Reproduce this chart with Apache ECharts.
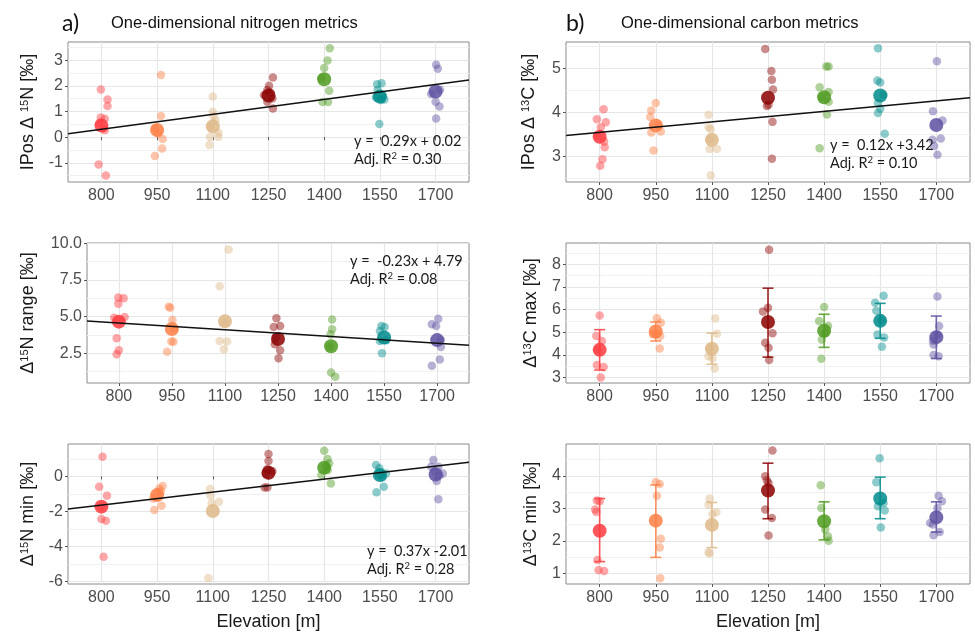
<!DOCTYPE html>
<html>
<head>
<meta charset="utf-8">
<script src="https://cdn.jsdelivr.net/npm/echarts@6/dist/echarts.min.js"></script>
<style>
html,body{margin:0;padding:0;background:#fff;}
#chart{width:975px;height:632px;}
</style>
</head>
<body>
<div id="chart"></div>
<script>
// ---------- categories & colours ----------
const elevations = ['800', '950', '1100', '1250', '1400', '1550', '1700'];
const groupColors = ['#FF3B3F', '#FF7F45', '#DEB887', '#8B0000', '#4E9A1E', '#008B8B', '#5D50A0'];

// ---------- a) IPos Δ15N ----------
const iposN_values = [
  [1.86, 1.47, 1.21, 0.77, 0.72, 0.55, 0.35, 0.27, -1.07, -1.50],
  [2.42, 0.82, 0.35, 0.14, -0.07, -0.44, -0.74],
  [1.58, 0.99, 0.82, 0.66, 0.40, 0.17, 0.01, 0.01, -0.31],
  [2.33, 2.00, 1.84, 1.73, 1.64, 1.51, 1.38, 1.12],
  [3.47, 2.99, 2.70, 2.30, 1.81, 1.37, 1.37],
  [2.10, 2.06, 1.84, 1.62, 1.55, 1.47, 1.45, 0.51],
  [2.82, 2.67, 1.85, 1.68, 1.38, 1.19, 0.73]
];
const iposN_jitter = [
  [-0.01, 0.11, 0.11, -0.01, 0.06, -0.04, 0.04, 0.06, -0.05, 0.08],
  [0.07, 0.07, -0.04, 0.02, 0.10, 0.09, -0.04],
  [0.00, 0.00, 0.01, 0.05, -0.04, 0.10, -0.05, 0.10, -0.06],
  [0.08, 0.01, -0.02, 0.04, -0.08, 0.07, -0.02, 0.08],
  [0.10, 0.06, 0.00, -0.05, 0.09, -0.03, 0.07],
  [0.03, -0.05, -0.04, 0.05, -0.07, 0.08, 0.02, -0.01],
  [0.01, 0.04, 0.08, -0.08, 0.00, 0.07, 0.01]
];
const iposN_mean = [0.45, 0.28, 0.42, 1.62, 2.26, 1.58, 1.78];
const iposN_fit = [0.29, 0.02];
const iposN_ticks = [-1, 0, 1, 2, 3];
const iposN_minor = [-1.5, -0.5, 0.5, 1.5, 2.5, 3.5];

// ---------- b) IPos Δ13C ----------
const iposC_values = [
  [4.07, 3.84, 3.77, 3.66, 3.45, 3.33, 3.20, 2.93, 2.78],
  [4.21, 4.04, 3.89, 3.71, 3.56, 3.54, 3.13],
  [3.94, 3.66, 3.61, 3.39, 3.16, 3.16, 2.56],
  [5.44, 4.94, 4.74, 4.52, 4.17, 4.14, 3.78, 2.94],
  [5.04, 5.04, 4.57, 4.46, 4.34, 4.24, 3.95, 3.18],
  [5.46, 4.72, 4.68, 4.40, 4.21, 4.08, 3.98, 3.51],
  [5.16, 4.02, 3.81, 3.40, 3.37, 3.23, 3.03]
];
const iposC_jitter = [
  [0.07, -0.05, 0.11, 0.02, -0.04, 0.08, 0.09, 0.05, 0.01],
  [0.00, -0.08, -0.10, 0.05, 0.09, -0.08, -0.04],
  [-0.06, -0.06, -0.02, -0.04, -0.04, 0.09, -0.02],
  [-0.05, 0.06, 0.07, 0.09, 0.01, -0.02, 0.08, 0.07],
  [0.04, 0.08, -0.08, 0.08, -0.04, 0.08, 0.05, -0.08],
  [-0.04, -0.05, 0.00, 0.06, -0.04, 0.00, -0.04, 0.08],
  [0.01, -0.06, 0.11, 0.08, -0.07, -0.04, 0.02]
];
const iposC_mean = [3.44, 3.70, 3.37, 4.33, 4.34, 4.38, 3.71];
const iposC_fit = [0.12, 3.42];
const iposC_ticks = [3, 4, 5];
const iposC_minor = [2.5, 3.5, 4.5, 5.5];

// ---------- a) Δ15N range ----------
const rangeN_values = [
  [6.30, 6.25, 5.89, 4.98, 4.93, 4.70, 3.52, 2.70, 2.43],
  [5.68, 5.61, 4.77, 4.20, 3.30, 3.28, 2.61],
  [9.59, 7.07, 4.60, 3.34, 3.30, 2.77],
  [4.89, 4.36, 4.30, 3.60, 3.11, 2.70, 2.16],
  [4.80, 4.14, 3.80, 2.95, 1.18, 0.89],
  [4.36, 4.30, 4.02, 3.39, 3.34, 2.50],
  [4.86, 4.48, 4.36, 3.41, 2.93, 2.07, 1.64]
];
const rangeN_jitter = [
  [-0.01, 0.09, -0.01, 0.11, -0.09, 0.00, -0.04, 0.00, -0.04],
  [-0.06, -0.03, 0.01, 0.03, -0.01, 0.03, -0.09],
  [0.07, -0.10, 0.00, -0.10, 0.04, -0.02],
  [-0.03, 0.04, -0.08, -0.04, -0.06, 0.04, 0.01],
  [0.02, 0.02, -0.01, -0.02, 0.00, 0.08],
  [-0.05, 0.01, -0.08, 0.04, -0.08, -0.04],
  [0.02, -0.10, -0.02, 0.07, 0.07, 0.05, -0.10]
];
const rangeN_mean = [4.66, 4.16, 4.68, 3.47, 2.98, 3.58, 3.40];
const rangeN_fit = [-0.23, 4.79];
const rangeN_ticks = [2.5, 5.0, 7.5, 10.0];
const rangeN_minor = [1.25, 3.75, 6.25, 8.75];

// ---------- b) Δ13C max ----------
const maxC_values = [
  [5.73, 4.83, 4.61, 4.24, 3.55, 3.46, 3.00],
  [5.61, 5.42, 4.95, 4.90, 4.83, 4.28],
  [5.60, 4.93, 4.30, 3.94, 3.84, 3.40],
  [8.63, 6.08, 5.91, 4.95, 4.53, 4.31, 3.77],
  [6.11, 5.49, 5.27, 4.95, 4.68, 3.83],
  [6.60, 6.30, 5.94, 5.52, 4.90, 4.76, 4.36],
  [6.57, 5.27, 4.90, 4.62, 4.46, 3.99, 3.94]
];
const maxC_jitter = [
  [0.00, -0.06, 0.04, -0.04, -0.05, 0.07, 0.02],
  [0.02, 0.09, 0.01, -0.05, 0.08, 0.07],
  [0.06, 0.09, -0.04, -0.06, 0.01, 0.05],
  [0.02, 0.00, -0.09, 0.08, -0.05, 0.01, 0.02],
  [0.00, -0.09, 0.07, 0.02, -0.04, -0.05],
  [0.06, -0.09, -0.07, 0.02, -0.05, 0.07, 0.03],
  [0.02, 0.05, 0.02, -0.06, -0.05, -0.05, 0.04]
];
const maxC_mean = [4.22, 5.03, 4.27, 5.45, 5.06, 5.50, 4.78];
const maxC_errLow = [3.33, 4.61, 3.59, 3.90, 4.33, 4.73, 3.84];
const maxC_errHigh = [5.11, 5.45, 4.96, 6.94, 5.79, 6.27, 5.71];
const maxC_ticks = [3, 4, 5, 6, 7, 8];
const maxC_minor = [3.5, 4.5, 5.5, 6.5, 7.5, 8.5];

// ---------- a) Δ15N min ----------
const minN_values = [
  [1.12, -0.59, -1.10, -1.73, -2.44, -2.53, -4.59],
  [-0.55, -0.69, -0.84, -1.07, -1.26, -1.68, -1.92],
  [-0.72, -1.10, -1.45, -1.55, -5.81],
  [1.28, 0.88, 0.42, 0.30, 0.15, -0.63, -0.63],
  [1.47, 0.99, 0.74, 0.55, 0.35, 0.08, -0.40],
  [0.65, 0.46, 0.17, 0.08, -0.05, -0.59, -0.91],
  [0.93, 0.55, 0.55, 0.30, 0.17, 0.05, -0.27, -1.30]
];
const minN_jitter = [
  [0.02, -0.04, 0.10, 0.00, 0.00, 0.08, 0.04],
  [0.10, 0.04, 0.07, 0.00, -0.07, 0.08, -0.05],
  [-0.05, -0.04, 0.11, -0.02, -0.08],
  [0.00, 0.00, -0.02, 0.07, -0.05, -0.07, -0.02],
  [0.00, 0.06, 0.09, 0.03, 0.06, -0.05, 0.12],
  [-0.07, -0.01, 0.11, -0.01, 0.05, 0.07, -0.06],
  [-0.04, -0.08, 0.05, -0.02, 0.13, 0.07, 0.02, 0.05]
];
const minN_mean = [-1.73, -1.07, -1.98, 0.21, 0.50, 0.08, 0.11];
const minN_fit = [0.37, -2.01];
const minN_ticks = [-6, -4, -2, 0];
const minN_minor = [-5, -3, -1, 1];

// ---------- b) Δ13C min ----------
const minC_values = [
  [3.24, 3.22, 2.96, 2.89, 1.41, 1.10, 1.07],
  [3.81, 3.75, 3.39, 2.06, 1.79, 0.85],
  [3.30, 3.11, 2.88, 2.82, 1.65, 1.61],
  [4.78, 3.99, 3.86, 3.78, 2.96, 2.70, 2.16],
  [3.71, 3.01, 2.35, 2.13, 2.00],
  [4.54, 3.80, 3.16, 3.06, 2.93, 2.41],
  [3.39, 3.22, 3.00, 2.55, 2.50, 2.27, 2.17]
];
const minC_jitter = [
  [-0.05, 0.00, -0.08, -0.06, -0.04, -0.02, 0.08],
  [0.00, 0.07, 0.02, 0.09, 0.07, 0.08],
  [-0.04, -0.06, 0.08, 0.01, -0.06, -0.04],
  [0.08, -0.05, -0.02, 0.01, -0.05, 0.07, 0.01],
  [-0.06, -0.05, 0.02, 0.07, 0.08],
  [-0.01, -0.07, 0.06, -0.04, 0.08, 0.01],
  [0.04, 0.10, 0.02, -0.11, -0.06, 0.06, -0.05]
];
const minC_mean = [2.31, 2.62, 2.49, 3.55, 2.60, 3.30, 2.72];
const minC_errLow = [1.36, 1.49, 1.79, 2.68, 2.03, 2.68, 2.27];
const minC_errHigh = [3.30, 3.72, 3.18, 4.39, 3.20, 3.96, 3.20];
const minC_ticks = [1, 2, 3, 4];
const minC_minor = [1.5, 2.5, 3.5, 4.5];

const xTicks = [1, 2, 3, 4, 5, 6, 7];

// ---------- layout / style ----------
const FONT = '"Liberation Sans", Arial, sans-serif';
const FONT2 = 'Lato, "Open Sans", sans-serif';
const panels = [
  { grid: {left: 68, top: 42, width: 401, height: 140}, ymin: -1.75, ymax: 3.71, ticks: iposN_ticks, minor: iposN_minor, dec: 0,
    name: '{m|IPos Δ }{s|15}{m|N [‰]}', nameGap: 31, values: iposN_values, jitter: iposN_jitter, mean: iposN_mean, fit: iposN_fit },
  { grid: {left: 566, top: 42, width: 404, height: 140}, ymin: 2.41, ymax: 5.6, ticks: iposC_ticks, minor: iposC_minor, dec: 0,
    name: '{m|IPos Δ }{s|13}{m|C [‰]}', nameGap: 28, values: iposC_values, jitter: iposC_jitter, mean: iposC_mean, fit: iposC_fit },
  { grid: {left: 87, top: 243, width: 382, height: 140}, ymin: 0.47, ymax: 10.03, ticks: rangeN_ticks, minor: rangeN_minor, dec: 1,
    name: '{m|Δ}{s|15}{m|N range [‰]}', nameGap: 50, values: rangeN_values, jitter: rangeN_jitter, mean: rangeN_mean, fit: rangeN_fit },
  { grid: {left: 566, top: 243, width: 404, height: 140}, ymin: 2.76, ymax: 8.93, ticks: maxC_ticks, minor: maxC_minor, dec: 0,
    name: '{m|Δ}{s|13}{m|C max [‰]}', nameGap: 26, values: maxC_values, jitter: maxC_jitter, mean: maxC_mean, errLow: maxC_errLow, errHigh: maxC_errHigh },
  { grid: {left: 68, top: 444, width: 401, height: 140}, ymin: -6.15, ymax: 1.85, ticks: minN_ticks, minor: minN_minor, dec: 0,
    name: '{m|Δ}{s|15}{m|N min [‰]}', nameGap: 31, values: minN_values, jitter: minN_jitter, mean: minN_mean, fit: minN_fit, xname: true },
  { grid: {left: 566, top: 444, width: 404, height: 140}, ymin: 0.67, ymax: 4.98, ticks: minC_ticks, minor: minC_minor, dec: 0,
    name: '{m|Δ}{s|13}{m|C min [‰]}', nameGap: 26, values: minC_values, jitter: minC_jitter, mean: minC_mean, errLow: minC_errLow, errHigh: minC_errHigh, xname: true }
];

const grids = [], xAxes = [], yAxes = [], series = [];
panels.forEach((p, i) => {
  grids.push(Object.assign({show: true, borderColor: '#8a8a8a', borderWidth: 1, backgroundColor: '#fff'}, p.grid));
  xAxes.push({
    gridIndex: i, type: 'value', min: 0.4, max: 7.6,
    name: p.xname ? 'Elevation [m]' : '', nameLocation: 'middle', nameGap: 29,
    nameTextStyle: {fontFamily: FONT, fontSize: 18, color: '#1a1a1a'},
    axisLine: {show: false},
    axisTick: {show: true, length: 3, customValues: xTicks, lineStyle: {color: '#555', width: 1}},
    axisLabel: {customValues: xTicks, fontFamily: FONT, fontSize: 16, color: '#4d4d4d', margin: 6,
      formatter: v => elevations[Math.round(v) - 1]},
    splitLine: {show: true, lineStyle: {color: '#e6e6e6', width: 1.2}}
  });
  yAxes.push({
    gridIndex: i, type: 'value', min: p.ymin, max: p.ymax,
    name: p.name, nameLocation: 'middle', nameGap: p.nameGap,
    nameTextStyle: {fontFamily: FONT, color: '#1a1a1a',
      rich: {m: {fontFamily: FONT, fontSize: 18, color: '#1a1a1a'},
             s: {fontFamily: FONT, fontSize: 11, color: '#1a1a1a', verticalAlign: 'top'}}},
    axisLine: {show: false},
    axisTick: {show: true, length: 3, customValues: p.ticks, lineStyle: {color: '#555', width: 1}},
    axisLabel: {customValues: p.ticks, fontFamily: FONT, fontSize: 16, color: '#4d4d4d', margin: 5,
      formatter: v => p.dec ? v.toFixed(p.dec) : String(Math.round(v))},
    splitLine: {show: true, lineStyle: {color: '#e6e6e6', width: 1.2}}
  });
  yAxes.push({
    gridIndex: i, type: 'value', min: p.ymin, max: p.ymax,
    axisLine: {show: false},
    axisTick: {show: false, customValues: p.minor},
    axisLabel: {show: false, customValues: p.minor},
    splitLine: {show: true, lineStyle: {color: '#f1f1f1', width: 1}}
  });
  const pts = [];
  p.values.forEach((arr, g) => arr.forEach((v, k) => pts.push([g + 1 + p.jitter[g][k], v, g])));
  series.push({
    type: 'scatter', xAxisIndex: i, yAxisIndex: 2 * i, symbolSize: 8.5, data: pts, z: 2,
    itemStyle: {color: prm => groupColors[prm.data[2]], opacity: 0.45}
  });
  if (p.errLow) {
    series.push({
      type: 'custom', xAxisIndex: i, yAxisIndex: 2 * i, z: 3,
      data: p.mean.map((m, g) => [g + 1, p.errLow[g], p.errHigh[g], g]),
      encode: {x: 0, y: [1, 2]},
      renderItem: (params, api) => {
        const x = api.value(0), lo = api.value(1), hi = api.value(2), g = api.value(3);
        const a = api.coord([x, lo]), b = api.coord([x, hi]);
        const w = 5.5, st = {stroke: groupColors[g], lineWidth: 1.6, opacity: 0.85};
        return {type: 'group', children: [
          {type: 'line', shape: {x1: a[0], y1: a[1], x2: b[0], y2: b[1]}, style: st},
          {type: 'line', shape: {x1: b[0] - w, y1: b[1], x2: b[0] + w, y2: b[1]}, style: st},
          {type: 'line', shape: {x1: a[0] - w, y1: a[1], x2: a[0] + w, y2: a[1]}, style: st}
        ]};
      }
    });
  }
  series.push({
    type: 'scatter', xAxisIndex: i, yAxisIndex: 2 * i, symbolSize: 14, z: 4,
    data: p.mean.map((m, g) => [g + 1, m, g]),
    itemStyle: {color: prm => groupColors[prm.data[2]], opacity: 0.85}
  });
  if (p.fit) {
    const [a, b] = p.fit;
    series.push({
      type: 'line', xAxisIndex: i, yAxisIndex: 2 * i, z: 5, symbol: 'none', silent: true,
      data: [[0.4, a * 0.4 + b], [7.6, a * 7.6 + b]],
      lineStyle: {color: '#111', width: 1.5}
    });
  }
});

const eqStyle = {
  fontFamily: FONT2, fontSize: 14.5, fill: '#1a1a1a', lineHeight: 17.5,
  rich: {t: {fontFamily: FONT2, fontSize: 14.5, lineHeight: 17.5}, s: {fontFamily: FONT2, fontSize: 9.5, verticalAlign: 'top', lineHeight: 17.5}}
};
function eq(x, y, line1, r2) {
  return {type: 'text', left: x, top: y, z: 100, style: Object.assign({}, eqStyle,
    {text: '{t|' + line1 + '}\n{t|Adj. R}{s|2}{t| = ' + r2 + '}'})};
}

const option = {
  animation: false,
  backgroundColor: '#fff',
  grid: grids, xAxis: xAxes, yAxis: yAxes, series: series,
  graphic: {elements: [
    {type: 'text', left: 62, top: 12, z: 100, style: {text: 'a)', fontFamily: FONT2, fontSize: 23, fill: '#111'}},
    {type: 'text', left: 111, top: 15, z: 100, style: {text: 'One-dimensional nitrogen metrics', fontFamily: FONT, fontSize: 16.5, fill: '#111'}},
    {type: 'text', left: 566, top: 12, z: 100, style: {text: 'b)', fontFamily: FONT2, fontSize: 23, fill: '#111'}},
    {type: 'text', left: 621, top: 15, z: 100, style: {text: 'One-dimensional carbon metrics', fontFamily: FONT, fontSize: 16.5, fill: '#111'}},
    eq(354, 133, 'y =  0.29x + 0.02', '0.30'),
    eq(830, 137, 'y =  0.12x +3.42', '0.10'),
    eq(350, 253, 'y =  -0.23x + 4.79', '0.08'),
    eq(367, 543, 'y =  0.37x -2.01', '0.28')
  ]}
};

const chart = echarts.init(document.getElementById('chart'), null, {renderer: 'canvas'});
chart.setOption(option);
</script>
</body>
</html>
